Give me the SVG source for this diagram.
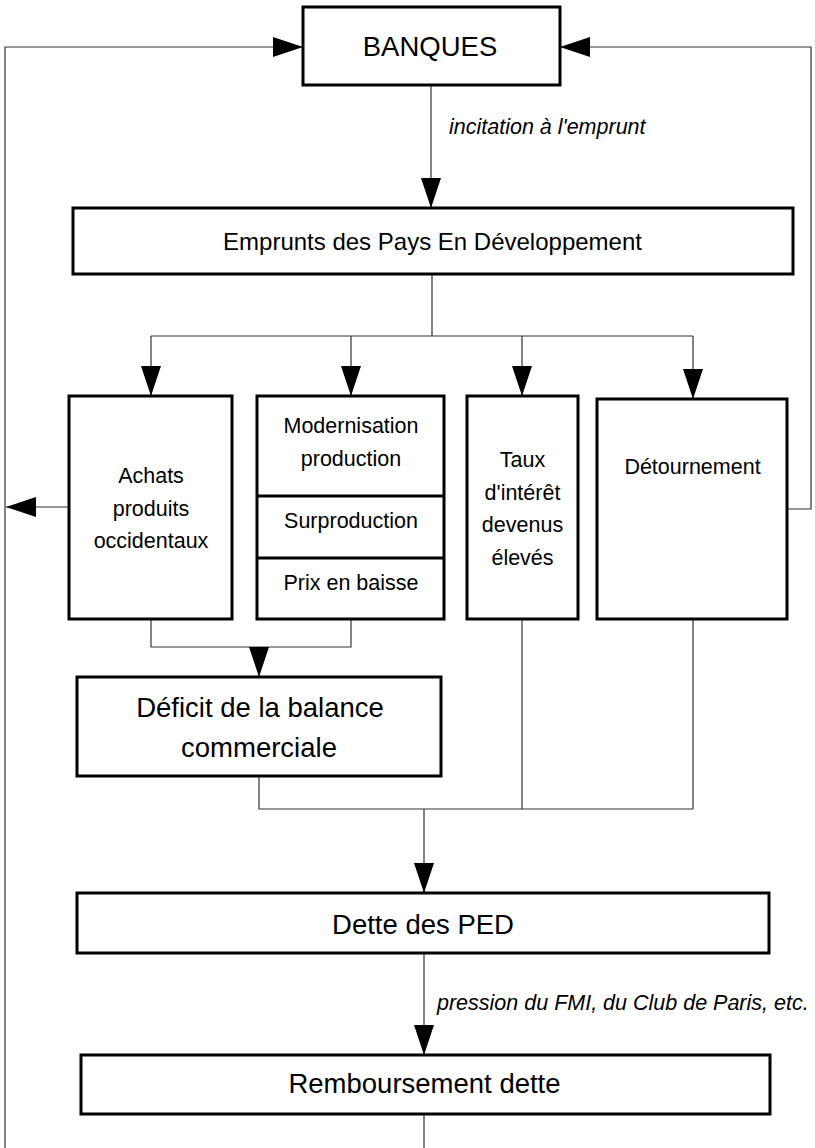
<svg xmlns="http://www.w3.org/2000/svg" width="815" height="1148" viewBox="0 0 815 1148">
<defs>
<marker id="arr" markerUnits="userSpaceOnUse" markerWidth="30" markerHeight="20" refX="30" refY="10" orient="auto" viewBox="0 0 30 20">
<path d="M0,0 L30,10 L0,20 Z" fill="#000"/>
</marker>
<style>
.box{fill:#fff;stroke:#000;stroke-width:3}
.ln{fill:none;stroke:#333;stroke-width:1.2}
.ar{marker-end:url(#arr)}
text{font-family:"Liberation Sans",Arial,Helvetica,sans-serif;fill:#000;text-anchor:middle}
.big{font-size:27.5px}
.mid{font-size:24px}
.sm{font-size:21.5px}
.lab{font-size:21.5px;font-style:italic;text-anchor:start}
</style>
</defs>
<rect width="815" height="1148" fill="#fff"/>
<g id="connectors">
<path class="ln ar" d="M5,1148 L5,47 L303,47"/>
<path class="ln ar" d="M787,509 L811,509 L811,47 L560,47"/>
<path class="ln ar" d="M431,85 L431,208"/>
<path class="ln" d="M432,274 L432,336 M151,336 L693,336"/>
<path class="ln ar" d="M151,336 L151,396"/>
<path class="ln ar" d="M351,336 L351,396"/>
<path class="ln ar" d="M522,336 L522,396"/>
<path class="ln ar" d="M693,336 L693,399"/>
<path class="ln ar" d="M70,507 L6,507"/>
<path class="ln" d="M151,619 L151,647 L351,647 L351,619"/>
<path class="ln ar" d="M259,647 L259,677"/>
<path class="ln" d="M259,776 L259,809 L693,809 M522,619 L522,809 M693,619 L693,809"/>
<path class="ln ar" d="M424,809 L424,893"/>
<path class="ln ar" d="M424,953 L424,1055"/>
<path class="ln" d="M424,1114 L424,1148"/>
<text class="lab" x="449" y="134">incitation à l'emprunt</text>
<text class="lab" x="437" y="1010">pression du FMI, du Club de Paris, etc.</text>
</g>
<g id="banques">
<rect class="box" x="303" y="7" width="257" height="78"/>
<text class="big" x="430" y="55.5">BANQUES</text>
</g>
<g id="emprunts">
<rect class="box" x="73" y="208" width="720" height="66"/>
<text class="mid" x="432.5" y="250">Emprunts des Pays En Développement</text>
</g>
<g id="achats">
<rect class="box" x="69" y="396" width="163" height="223"/>
<text class="sm" x="151" y="483">Achats</text>
<text class="sm" x="151" y="515.5">produits</text>
<text class="sm" x="151" y="548">occidentaux</text>
</g>
<g id="modernisation">
<rect class="box" x="257" y="396" width="187" height="223"/>
<line x1="257" y1="496" x2="444" y2="496" stroke="#000" stroke-width="3"/>
<line x1="257" y1="558" x2="444" y2="558" stroke="#000" stroke-width="3"/>
<text class="sm" x="351" y="433">Modernisation</text>
<text class="sm" x="351" y="466">production</text>
<text class="sm" x="351" y="528">Surproduction</text>
<text class="sm" x="351" y="590">Prix en baisse</text>
</g>
<g id="taux">
<rect class="box" x="467" y="396" width="111" height="223"/>
<text class="sm" x="522.5" y="467">Taux</text>
<text class="sm" x="522.5" y="499.5">d'intérêt</text>
<text class="sm" x="522.5" y="532">devenus</text>
<text class="sm" x="522.5" y="565">élevés</text>
</g>
<g id="detournement">
<rect class="box" x="597" y="399" width="190" height="220"/>
<text class="sm" x="692.5" y="474">Détournement</text>
</g>
<g id="deficit">
<rect class="box" x="77" y="677" width="364" height="99"/>
<text class="big" x="260" y="717">Déficit de la balance</text>
<text class="big" x="259" y="757">commerciale</text>
</g>
<g id="dette">
<rect class="box" x="77" y="893" width="692" height="60"/>
<text class="big" x="423" y="934">Dette des PED</text>
</g>
<g id="remboursement">
<rect class="box" x="81" y="1055" width="689" height="59"/>
<text class="big" x="424.5" y="1093">Remboursement dette</text>
</g>
</svg>
